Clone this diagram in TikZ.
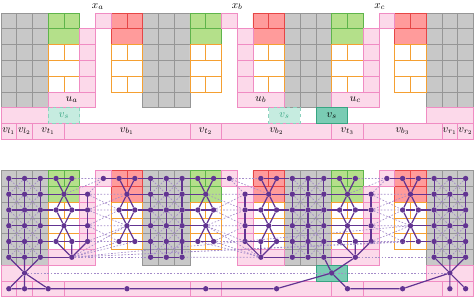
\documentclass[tikz,border=0pt]{standalone}
\usepackage{tikz}
\definecolor{tilegray}{RGB}{200,200,200}
\definecolor{tilegrayd}{RGB}{150,150,150}
\definecolor{tilegreen}{RGB}{180,224,138}
\definecolor{tilegreend}{RGB}{95,180,75}
\definecolor{tilered}{RGB}{255,155,155}
\definecolor{tileredd}{RGB}{230,70,70}
\definecolor{tileorange}{RGB}{245,160,50}
\definecolor{tilepink}{RGB}{252,217,234}
\definecolor{tilepinkd}{RGB}{240,140,195}
\definecolor{teall}{RGB}{198,236,224}
\definecolor{teald}{RGB}{140,210,190}
\definecolor{teals}{RGB}{122,204,180}
\definecolor{tealsd}{RGB}{55,165,130}
\definecolor{gpurple}{RGB}{98,52,146}
\definecolor{gpurplel}{RGB}{165,140,202}
\begin{document}
\begin{tikzpicture}[x=0.5cm,y=-0.5cm,
    graycell/.style={fill=tilegray,draw=tilegrayd,line width=0.6pt},
    greencell/.style={fill=tilegreen,draw=tilegreend,line width=0.6pt},
    redcell/.style={fill=tilered,draw=tileredd,line width=0.6pt},
    orangecell/.style={fill=white,draw=tileorange,line width=0.6pt},
    pinkcell/.style={fill=tilepink,draw=tilepinkd,line width=0.6pt},
    vsdash/.style={fill=teall,draw=teald,dashed,line width=0.6pt},
    vssolid/.style={fill=teals,draw=tealsd,line width=0.6pt},
    dot/.style={circle,fill=gpurple,inner sep=0pt,minimum size=1.7mm},
    edge/.style={gpurple,line width=1.1pt},
    weak/.style={gpurplel,line width=0.6pt,dash pattern=on 1.5pt off 1.5pt}]
\useasboundingbox (-0.06,-0.83) rectangle (30.16,18.09);
% tiles, once with labels (top) and once under the graph (bottom)
\foreach \oy in {0,10} {
  \foreach \gx in {0,9,18,27} \foreach \i in {0,1,2} \foreach \r in {0,...,5}
    \draw[graycell] (\gx+\i,\oy+\r) rectangle ++(1,1);
  \foreach \bx/\sty in {3/greencell,7/redcell,12/greencell,16/redcell,21/greencell,25/redcell} {
    \draw[\sty] (\bx,\oy) rectangle ++(1,1) (\bx+1,\oy) rectangle ++(1,1);
    \draw[\sty] (\bx,\oy+1) rectangle ++(2,1);
    \draw[orangecell] (\bx,\oy+2) rectangle ++(1,1) (\bx+1,\oy+2) rectangle ++(1,1);
    \draw[orangecell] (\bx,\oy+3) rectangle ++(2,1);
    \draw[orangecell] (\bx,\oy+4) rectangle ++(1,1) (\bx+1,\oy+4) rectangle ++(1,1);
  }
  \foreach \px/\cx/\ux in {6/5/3,14/15/15,24/23/21} {
    \draw[pinkcell] (\px,\oy) rectangle ++(1,1);
    \foreach \r in {1,...,4} \draw[pinkcell] (\cx,\oy+\r) rectangle ++(1,1);
    \draw[pinkcell] (\ux,\oy+5) rectangle ++(3,1);
  }
  \draw[pinkcell] (0,\oy+6) rectangle ++(3,1);
  \draw[pinkcell] (27,\oy+6) rectangle ++(3,1);
  \foreach \a/\b in {0/1,1/2,2/4,4/12,12/14,14/21,21/23,23/28,28/29,29/30}
    \draw[pinkcell] (\a,\oy+7) rectangle (\b,\oy+8);
  \draw[vssolid] (20,\oy+6) rectangle ++(2,1);
}
\draw[vsdash] (3,6) rectangle ++(2,1);
\draw[vsdash] (17,6) rectangle ++(2,1);
% labels
\node[inner sep=0pt] (xa) at (6.15,-0.42) {$x_a$};
\node[inner sep=0pt] (xb) at (15,-0.42) {$x_b$};
\node[inner sep=0pt] (xc) at (24.05,-0.42) {$x_c$};
\node (la) at (4.5,5.5) {$u_a$};
\node (lb) at (16.5,5.5) {$u_b$};
\node (lc) at (22.5,5.5) {$u_c$};
\node[text=tealsd] (ls1) at (4,6.5) {$v_s$};
\node[text=tealsd] (ls2) at (18,6.5) {$v_s$};
\node (ls3) at (21,6.5) {$v_s$};
\foreach \x/\t [count=\k] in {0.5/l_1,1.5/l_2,3/t_1,8/b_1,13/t_2,17.5/b_2,22/t_3,25.5/b_3,28.5/r_1,29.5/r_2}
  \node[inner sep=0pt] (lv\k) at (\x,7.5) {$v_{\t}$};
% graph nodes
\foreach \c in {0,1,2,9,10,11,18,19,20,27,28,29} \foreach \r in {0,...,5}
  \node[dot] (n\c-\r) at (\c+0.5,10.5+\r) {};
\foreach \c [evaluate=\c as \d using int(\c+1)] in {3,7,12,16,21,25} {
  \foreach \r in {0,2,4} {
    \node[dot] (n\c-\r) at (\c+0.5,10.5+\r) {};
    \node[dot] (n\d-\r) at (\c+1.5,10.5+\r) {};
  }
  \foreach \r in {1,3} \node[dot] (k\c-\r) at (\c+1,10.5+\r) {};
}
\foreach \c in {5,15,23} \foreach \r in {1,...,4}
  \node[dot] (n\c-\r) at (\c+0.5,10.5+\r) {};
\foreach \c in {6,14,24} \node[dot] (n\c-0) at (\c+0.5,10.5) {};
\node[dot] (ua) at (4.5,15.5) {};
\node[dot] (ub) at (16.5,15.5) {};
\node[dot] (uc) at (22.5,15.5) {};
\node[dot] (p0) at (1.5,16.5) {};
\node[dot] (vs) at (21,16.5) {};
\node[dot] (p27) at (28.5,16.5) {};
\foreach \x/\n in {0.5/l1,1.5/l2,3/t1,8/b1,13/t2,17.5/b2,22/t3,25.5/b3,28.5/r1,29.5/r2}
  \node[dot] (\n) at (\x,17.5) {};
% dashed edges
\foreach \gx in {0,9,18,27} \foreach \i in {0,1} \foreach \r in {0,...,4} {
  \pgfmathtruncatemacro\ca{\gx+\i}
  \pgfmathtruncatemacro\cb{\gx+\i+1}
  \pgfmathtruncatemacro\rb{\r+1}
  \draw[weak] (n\ca-\r) -- (n\cb-\rb) (n\cb-\r) -- (n\ca-\rb);
}
\draw[weak] (p0) -- (vs) -- (p27);
\foreach \o in {0,18} {
  \pgfmathtruncatemacro\ga{3+\o} \pgfmathtruncatemacro\gb{4+\o}
  \pgfmathtruncatemacro\pc{5+\o} \pgfmathtruncatemacro\pt{6+\o}
  \pgfmathtruncatemacro\ra{7+\o} \pgfmathtruncatemacro\rb{8+\o}
  \draw[weak] (n\gb-0) -- (n\pt-0) (k\ga-1) -- (n\pt-0) (n\pc-1) -- (n\pt-0)
    (n\pc-1) -- (k\ra-1) (n\pc-2) -- (n\ra-2) (n\pc-3) -- (k\ra-3) (n\pc-4) -- (n\ra-4)
    (n\pc-1) -- (n\ra-2) (n\pc-2) -- (k\ra-1) (n\pc-2) -- (k\ra-3)
    (n\pc-3) -- (n\ra-2) (n\pc-3) -- (n\ra-4) (n\pc-4) -- (k\ra-3)
    (ua) -- (n\ra-4) (ua) -- (n\rb-4) (ua) -- (k\ra-3);
}
\draw[weak] (n14-0) -- (n16-0) (n14-0) -- (n15-1) (n14-0) -- (k16-1)
  (k12-1) -- (n15-1) (n13-2) -- (n15-2) (k12-3) -- (n15-3) (n13-4) -- (n15-4)
  (k12-1) -- (n15-2) (n13-2) -- (n15-1) (n13-2) -- (n15-3)
  (k12-3) -- (n15-2) (k12-3) -- (n15-4) (n13-4) -- (n15-3)
  (ub) -- (n12-4) (ub) -- (n13-4) (ub) -- (k12-3) (ub) -- (n11-5);
\draw[weak] (ua) -- (n9-5) (uc) -- (n27-5);
% solid edges
\foreach \c in {0,1,2,9,10,11,18,19,20,27,28,29}
  \draw[edge] (n\c-0) -- (n\c-1) -- (n\c-2) -- (n\c-3) -- (n\c-4) -- (n\c-5);
\foreach \c in {5,15,23}
  \draw[edge] (n\c-1) -- (n\c-2) -- (n\c-3) -- (n\c-4);
\draw[edge] (n0-0) -- (n1-0) -- (n2-0) -- (n3-0) -- (n4-0);
\draw[edge] (n6-0) -- (n7-0) -- (n8-0) -- (n9-0) -- (n10-0) -- (n11-0) -- (n12-0) -- (n13-0) -- (n14-0);
\draw[edge] (n16-0) -- (n17-0) -- (n18-0) -- (n19-0) -- (n20-0) -- (n21-0) -- (n22-0);
\draw[edge] (n24-0) -- (n25-0) -- (n26-0) -- (n27-0) -- (n28-0) -- (n29-0);
\foreach \r in {2,4} {
  \draw[edge] (n0-\r) -- (n1-\r) -- (n2-\r) -- (n3-\r) -- (n4-\r) -- (n5-\r);
  \draw[edge] (n7-\r) -- (n8-\r) -- (n9-\r) -- (n10-\r) -- (n11-\r) -- (n12-\r) -- (n13-\r);
  \draw[edge] (n15-\r) -- (n16-\r) -- (n17-\r) -- (n18-\r) -- (n19-\r) -- (n20-\r) -- (n21-\r) -- (n22-\r) -- (n23-\r);
  \draw[edge] (n25-\r) -- (n26-\r) -- (n27-\r) -- (n28-\r) -- (n29-\r);
}
\foreach \r in {1,3} {
  \draw[edge] (n0-\r) -- (n1-\r) -- (n2-\r) -- (k3-\r) -- (n5-\r);
  \draw[edge] (k7-\r) -- (n9-\r) -- (n10-\r) -- (n11-\r) -- (k12-\r);
  \draw[edge] (n15-\r) -- (k16-\r) -- (n18-\r) -- (n19-\r) -- (n20-\r) -- (k21-\r) -- (n23-\r);
  \draw[edge] (k25-\r) -- (n27-\r) -- (n28-\r) -- (n29-\r);
}
\draw[edge] (n0-5) -- (n1-5) -- (n2-5) -- (ua);
\draw[edge] (n9-5) -- (n10-5) -- (n11-5);
\draw[edge] (ub) -- (n18-5) -- (n19-5) -- (n20-5) -- (uc);
\draw[edge] (n27-5) -- (n28-5) -- (n29-5);
\foreach \c [evaluate=\c as \d using int(\c+1)] in {3,7,12,16,21,25}
  \draw[edge] (n\c-0) -- (k\c-1) -- (n\d-2) (n\d-0) -- (k\c-1) -- (n\c-2)
    (n\c-2) -- (k\c-3) -- (n\d-4) (n\d-2) -- (k\c-3) -- (n\c-4);
\draw[edge] (n3-4) -- (ua) (n4-4) -- (ua) (n5-4) -- (ua);
\draw[edge] (n15-4) -- (ub) (n16-4) -- (ub) (n17-4) -- (ub);
\draw[edge] (n21-4) -- (uc) (n22-4) -- (uc) (n23-4) -- (uc);
\draw[edge] (n0-5) -- (p0) (n1-5) -- (p0) (n2-5) -- (p0);
\draw[edge] (p0) -- (l1) (p0) -- (l2) (p0) -- (t1);
\draw[edge] (n27-5) -- (p27) (n28-5) -- (p27) (n29-5) -- (p27);
\draw[edge] (p27) -- (r1) (p27) -- (r2) (p27) -- (b3);
\draw[edge] (l1) -- (l2) -- (t1) -- (b1) -- (t2) -- (b2) -- (vs) -- (t3) -- (b3);
\draw[edge] (n20-5) -- (vs) (uc) -- (vs);
\end{tikzpicture}
\end{document}
